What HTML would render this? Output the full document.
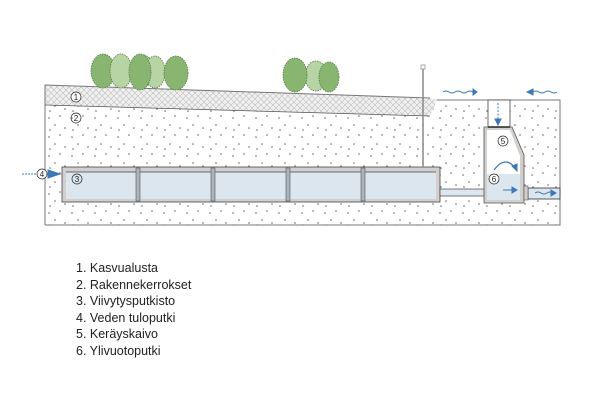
<!DOCTYPE html>
<html><head><meta charset="utf-8"><style>
html,body{margin:0;padding:0;background:#fff;width:600px;height:400px;overflow:hidden}
.lg{position:absolute;left:76px;top:260px;font-family:"Liberation Sans",sans-serif;font-size:12.5px;line-height:16.5px;color:#222}
</style></head><body>
<svg width="600" height="400" style="position:absolute;left:0;top:0" xmlns="http://www.w3.org/2000/svg">
<defs>
<pattern id="dots" width="23" height="19" patternUnits="userSpaceOnUse">
<circle cx="3" cy="4" r="0.8" fill="#666"/><circle cx="14" cy="2" r="0.8" fill="#666"/>
<circle cx="9" cy="11" r="0.8" fill="#666"/><circle cx="19" cy="14" r="0.8" fill="#666"/>
<circle cx="4" cy="16" r="0.8" fill="#666"/>
</pattern>
<pattern id="hatch" width="6" height="6" patternUnits="userSpaceOnUse">
<path d="M0 0L6 6M6 0L0 6" stroke="#bbb" stroke-width="0.6"/>
</pattern>
</defs>
<!-- soil -->
<path d="M45 85 L430 98 L437 100 L560 100 L560 225 L45 225 Z" fill="#fff"/>
<path d="M45 105 L430 116 L437 100 L560 100 L560 225 L45 225 Z" fill="url(#dots)"/>
<path d="M45 85 L430 98 L437 100 L430 116 L45 105 Z" fill="#f0f0f0"/>
<path d="M45 85 L430 98 L437 100 L430 116 L45 105 Z" fill="url(#hatch)"/>
<path d="M45 105 L430 116" stroke="#555" stroke-width="0.8"/>
<path d="M45 225 L45 85 L430 98 M437 100 L560 100 L560 225 L45 225" fill="none" stroke="#777" stroke-width="1"/>
<!-- trees -->
<g stroke="#557a45" stroke-width="0.8" stroke-dasharray="1.5 1">
<ellipse cx="103" cy="71" rx="12" ry="17" fill="#88b570"/>
<ellipse cx="143" cy="71" rx="11" ry="16" fill="#b7d4a4"/>
<ellipse cx="121" cy="71" rx="11" ry="17" fill="#b7d4a4"/>
<ellipse cx="155" cy="72" rx="10" ry="16" fill="#b7d4a4"/>
<ellipse cx="140" cy="72" rx="11" ry="18" fill="#88b570"/>
<ellipse cx="176" cy="73" rx="12" ry="17" fill="#88b570"/>
<ellipse cx="316" cy="76" rx="11" ry="15" fill="#b7d4a4"/>
<ellipse cx="295" cy="75" rx="12" ry="17" fill="#88b570"/>
<ellipse cx="329" cy="77" rx="10" ry="15" fill="#88b570"/>
</g>
<!-- pipe -->
<rect x="62" y="167" width="378" height="35" fill="#d2cfcc" stroke="#444" stroke-width="0.8"/>
<rect x="66" y="172" width="370" height="27" fill="#dbe6ef"/>
<line x1="66" y1="172" x2="436" y2="172" stroke="#444" stroke-width="0.8"/>
<g fill="#a9b4bd" stroke="#555" stroke-width="0.6">
<rect x="136" y="168" width="4" height="33"/><rect x="211" y="168" width="4" height="33"/>
<rect x="286" y="168" width="4" height="33"/><rect x="361" y="168" width="4" height="33"/>
</g>
<!-- post -->
<line x1="423" y1="68" x2="423" y2="167" stroke="#888" stroke-width="1.5"/>
<rect x="421" y="65" width="4" height="4" fill="#fff" stroke="#888" stroke-width="0.7"/>
<!-- connection pipe -->
<rect x="440" y="189" width="45" height="7" fill="#dbe6ef" stroke="#444" stroke-width="0.7"/>
<!-- well -->
<rect x="488" y="100" width="22" height="27" fill="#fff" stroke="#444" stroke-width="0.8"/>
<path d="M484 127 L512 127 L524 155 L524 203 L484 203 Z" fill="#d2cfcc" stroke="#555" stroke-width="0.8"/>
<path d="M487 130 L510 130 L520 156 L520 200 L487 200 Z" fill="#fff"/>
<rect x="487" y="174" width="33" height="26" fill="#dbe6ef"/>
<line x1="488" y1="127" x2="510" y2="127" stroke="#222" stroke-width="1.5"/>
<rect x="528" y="188" width="32" height="11" fill="#dbe6ef" stroke="#333" stroke-width="0.8"/>
<rect x="524" y="186" width="4" height="14" fill="#d2cfcc" stroke="#555" stroke-width="0.6"/>
<!-- arrows -->
<g stroke="#3f78b5" stroke-width="1" fill="#3f78b5">
<path d="M443 92 q3 -2 6 0 t6 0 t6 0 t6 0 t6 0" fill="none"/><path d="M473 89 L477 92 L473 95 Z"/>
<path d="M533 92 q3 -2 6 0 t6 0 t6 0 t6 0" fill="none"/><path d="M527 92 L533 89 L533 95 Z"/>
<path d="M498 103 L498 121" stroke-dasharray="2 1.5" fill="none"/><path d="M495 119 L498 125 L501 119 Z"/>
<path d="M494 170 Q505 155 515 168" fill="none" stroke-width="1.3"/><path d="M512 166 L517 171 L517 164 Z"/>
<path d="M503 190 L513 190" fill="none"/><path d="M512 187 L517 190 L512 193 Z"/>
<path d="M535 193 q3 -2 6 0 t6 0 t4 0" fill="none"/><path d="M551 190 L556 193 L551 196 Z"/>
<path d="M22 174 L48 174" fill="none" stroke-dasharray="2 1"/><path d="M48 170 L60 174 L48 178 Z"/>
</g>
<!-- labels -->
<g font-family="Liberation Sans,sans-serif" font-size="9" fill="#222" stroke="#222" stroke-width="0.7">
<circle cx="76" cy="97" r="5" fill="#fff"/><circle cx="76" cy="118" r="5" fill="none"/>
<circle cx="77" cy="179" r="5" fill="none"/><circle cx="42" cy="174" r="5" fill="#fff"/>
<circle cx="503" cy="141" r="5" fill="none"/><circle cx="494" cy="179" r="5" fill="#fff"/>
</g>
<g font-family="Liberation Sans,sans-serif" font-size="8" fill="#222" text-anchor="middle">
<text x="76" y="100">1</text><text x="76" y="121">2</text><text x="77" y="182">3</text>
<text x="42" y="177">4</text><text x="503" y="144">5</text><text x="494" y="182">6</text>
</g>
</svg>
<div class="lg">1. Kasvualusta<br>2. Rakennekerrokset<br>3. Viivytysputkisto<br>4. Veden tuloputki<br>5. Keräyskaivo<br>6. Ylivuotoputki</div>
</body></html>
